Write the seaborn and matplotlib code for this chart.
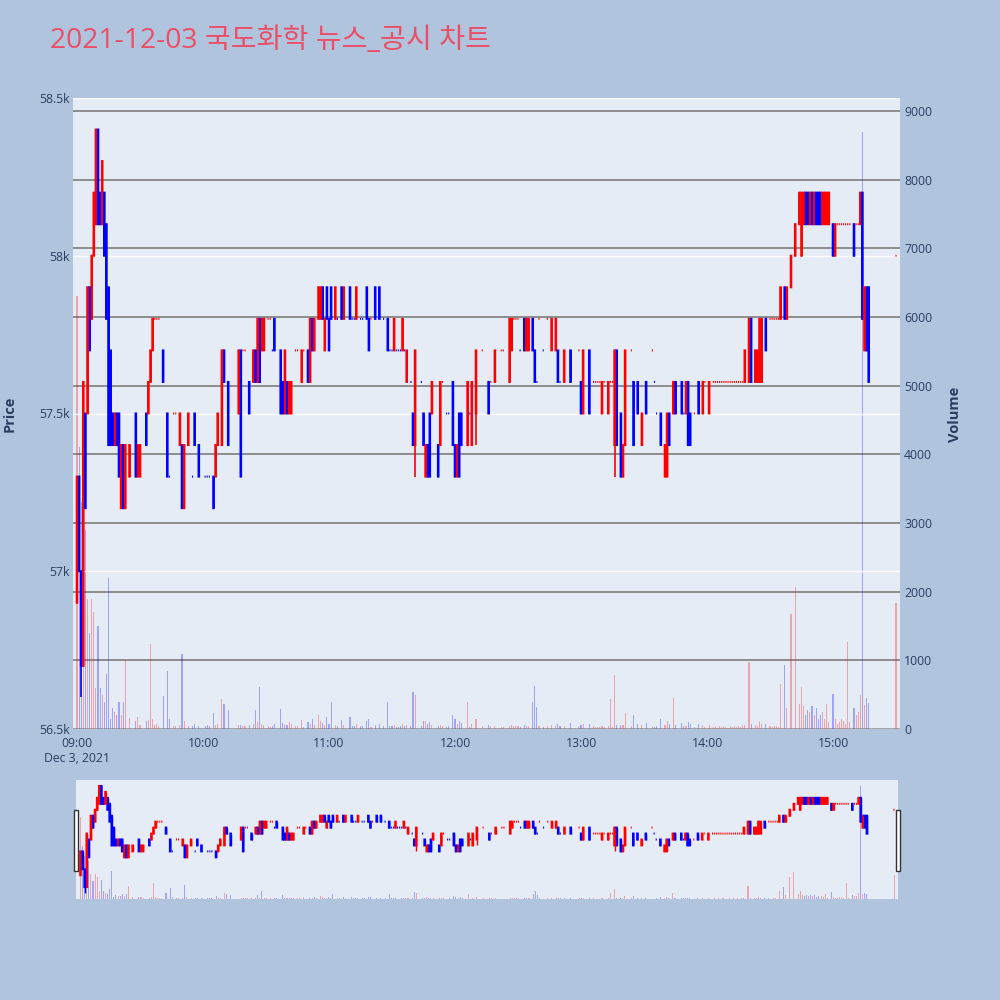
import numpy as np
import pandas as pd
import matplotlib
matplotlib.use("Agg")
import matplotlib.pyplot as plt
from matplotlib.patches import Rectangle
import seaborn as sns

# ---------------- 1-minute candles (minutes after 09:00) ----------------
minute = [
    0, 1, 2, 3, 4, 5, 6, 7, 8, 9, 10, 11,
    12, 13, 14, 15, 16, 17, 18, 19, 20, 21, 22, 23,
    25, 28, 29, 30, 33, 34, 35, 36, 37, 38, 39, 41,
    43, 44, 46, 47, 49, 50, 51, 53, 55, 56, 58, 61,
    62, 63, 65, 66, 67, 69, 70, 72, 77, 78,
    79, 80, 82, 84, 85, 86, 87, 88, 89, 91, 92, 93,
    94, 97, 98, 99, 100, 101, 102, 104, 105, 107, 108, 110,
    111, 112, 113, 115, 116, 117, 118, 119, 120, 121, 123, 124,
    126, 127, 130, 131, 132, 133, 135, 136, 138, 139, 140, 142,
    144, 146, 148, 149, 150, 151, 152, 153, 154, 155,
    156, 157, 159, 160, 161, 164, 165, 166, 167, 168, 169, 172,
    173, 174, 176, 177, 179, 180, 181, 182, 183, 186, 187, 188,
    190, 193, 196, 197, 199, 202, 203, 206, 207, 208, 209, 210,
    211, 213, 214, 215, 217, 218, 219, 220, 222, 224, 226, 228,
    229, 230, 232, 235,
    239, 240, 241, 244, 246, 247, 248, 249, 250, 251, 253, 254,
    255, 256, 257, 259, 260, 261, 264, 265, 267, 269, 271, 274,
    275, 276, 278, 280, 281, 282, 284, 285, 288, 289, 290, 291,
    292, 294, 296, 298, 299, 301, 303, 304, 305, 306, 307, 308,
    309, 310, 311, 312, 313, 314, 315, 316, 317,
    318, 320, 321, 323, 324, 325, 326, 328, 330, 331, 332, 333,
    334, 335, 337, 338, 340, 342, 344, 345, 346, 347, 348, 349,
    350, 351, 352, 353, 354, 355, 356, 357, 358, 360, 361, 362,
    363, 364, 365, 366, 367, 368, 370, 371, 372, 373, 374, 375,
    376, 377, 390,
]

open_price = [
    56900, 57300, 57000, 56700, 57500, 57500, 57900, 57800, 58000, 58100, 58400, 58200,
    58100, 58200, 58100, 57900, 57700, 57500, 57400, 57500, 57500, 57200, 57400, 57200,
    57300, 57500, 57300, 57300, 57500, 57500, 57600, 57700, 57800, 57800, 57800, 57700,
    57500, 57300, 57500, 57500, 57400, 57400, 57200, 57400, 57300, 57500, 57400, 57300,
    57300, 57300, 57300, 57300, 57400, 57400, 57700, 57600, 57500, 57700,
    57700, 57700, 57600, 57600, 57700, 57600, 57800, 57700, 57700, 57800, 57800, 57700,
    57800, 57700, 57600, 57500, 57600, 57500, 57500, 57700, 57700, 57600, 57700, 57700,
    57600, 57800, 57700, 57800, 57800, 57900, 57700, 57900, 57800, 57900, 57800, 57800,
    57900, 57800, 57900, 57800, 57800, 57800, 57800, 57800, 57900, 57800, 57800, 57900,
    57900, 57800, 57800, 57700, 57700, 57700, 57700, 57700, 57700, 57700,
    57700, 57600, 57600, 57500, 57400, 57600, 57500, 57300, 57400, 57500, 57500, 57400,
    57400, 57600, 57500, 57500, 57600, 57400, 57300, 57500, 57500, 57400, 57500, 57400,
    57500, 57700, 57600, 57600, 57600, 57700, 57700, 57600, 57700, 57800, 57800, 57800,
    57700, 57800, 57700, 57700, 57800, 57700, 57600, 57800, 57700, 57800, 57700, 57700,
    57700, 57600, 57600, 57700,
    57700, 57600, 57500, 57700, 57600, 57600, 57600, 57600, 57500, 57600, 57500, 57600,
    57600, 57400, 57700, 57500, 57300, 57400, 57700, 57600, 57600, 57400, 57600, 57700,
    57600, 57500, 57500, 57300, 57300, 57500, 57500, 57600, 57600, 57500, 57500, 57600,
    57500, 57500, 57600, 57500, 57600, 57500, 57600, 57600, 57600, 57600, 57600, 57600,
    57600, 57600, 57600, 57600, 57600, 57600, 57600, 57600, 57600,
    57600, 57600, 57800, 57600, 57600, 57600, 57600, 57800, 57800, 57800, 57800, 57800,
    57800, 57800, 57900, 57800, 57900, 58000, 58100, 58000, 58100, 58200, 58200, 58100,
    58200, 58100, 58200, 58200, 58200, 58100, 58100, 58100, 58100, 58100, 58000, 58100,
    58100, 58100, 58100, 58100, 58100, 58100, 58100, 58100, 58100, 58100, 58200, 57700,
    57900, 57900, 58000,
]

high_price = [
    57300, 57300, 57000, 57600, 57500, 57900, 57900, 58000, 58200, 58400, 58400, 58200,
    58300, 58200, 58100, 57900, 57700, 57500, 57500, 57500, 57500, 57400, 57400, 57400,
    57400, 57500, 57400, 57400, 57500, 57600, 57700, 57800, 57800, 57800, 57800, 57700,
    57500, 57300, 57500, 57500, 57500, 57400, 57400, 57500, 57300, 57500, 57400, 57300,
    57300, 57300, 57300, 57400, 57500, 57700, 57700, 57600, 57700, 57700,
    57700, 57700, 57600, 57700, 57700, 57800, 57800, 57800, 57800, 57800, 57800, 57700,
    57800, 57700, 57600, 57700, 57600, 57600, 57600, 57700, 57700, 57700, 57700, 57700,
    57800, 57800, 57800, 57900, 57900, 57900, 57800, 57900, 57800, 57900, 57900, 57800,
    57900, 57900, 57900, 57800, 57800, 57900, 57800, 57800, 57900, 57800, 57800, 57900,
    57900, 57800, 57800, 57700, 57700, 57800, 57700, 57700, 57700, 57800,
    57700, 57700, 57600, 57500, 57700, 57600, 57500, 57400, 57400, 57500, 57600, 57400,
    57600, 57600, 57500, 57500, 57600, 57400, 57400, 57500, 57500, 57600, 57500, 57600,
    57700, 57700, 57600, 57600, 57700, 57700, 57700, 57800, 57800, 57800, 57800, 57800,
    57700, 57800, 57800, 57800, 57800, 57700, 57600, 57800, 57700, 57800, 57800, 57800,
    57700, 57600, 57700, 57700,
    57700, 57600, 57700, 57700, 57600, 57600, 57600, 57600, 57600, 57600, 57600, 57600,
    57600, 57700, 57700, 57500, 57400, 57700, 57700, 57600, 57600, 57500, 57600, 57700,
    57600, 57500, 57500, 57400, 57500, 57500, 57600, 57600, 57600, 57500, 57600, 57600,
    57500, 57500, 57600, 57600, 57600, 57600, 57600, 57600, 57600, 57600, 57600, 57600,
    57600, 57600, 57600, 57600, 57600, 57600, 57600, 57600, 57600,
    57700, 57800, 57800, 57700, 57700, 57800, 57800, 57800, 57800, 57800, 57800, 57800,
    57800, 57900, 57900, 57900, 58000, 58100, 58200, 58200, 58200, 58200, 58200, 58200,
    58200, 58200, 58200, 58200, 58200, 58200, 58200, 58200, 58200, 58100, 58100, 58100,
    58100, 58100, 58100, 58100, 58100, 58100, 58100, 58100, 58100, 58200, 58200, 57900,
    57900, 57900, 58000,
]

low_price = [
    56900, 57000, 56600, 56700, 57200, 57500, 57700, 57800, 58000, 58100, 58100, 58100,
    58100, 58000, 57800, 57400, 57400, 57400, 57400, 57400, 57300, 57200, 57200, 57200,
    57300, 57300, 57300, 57300, 57400, 57500, 57600, 57700, 57800, 57800, 57800, 57600,
    57300, 57300, 57500, 57500, 57400, 57200, 57200, 57400, 57300, 57400, 57300, 57300,
    57300, 57300, 57200, 57300, 57400, 57400, 57600, 57400, 57500, 57300,
    57700, 57700, 57500, 57600, 57600, 57600, 57600, 57700, 57700, 57800, 57800, 57700,
    57700, 57500, 57500, 57500, 57500, 57500, 57500, 57700, 57700, 57600, 57700, 57600,
    57600, 57700, 57700, 57800, 57800, 57800, 57700, 57800, 57700, 57800, 57800, 57800,
    57800, 57800, 57800, 57800, 57800, 57800, 57800, 57800, 57800, 57700, 57800, 57800,
    57800, 57800, 57700, 57700, 57700, 57700, 57700, 57700, 57700, 57700,
    57700, 57600, 57600, 57400, 57300, 57600, 57400, 57300, 57300, 57300, 57500, 57300,
    57400, 57600, 57500, 57500, 57400, 57300, 57300, 57300, 57400, 57400, 57500, 57400,
    57400, 57700, 57500, 57600, 57600, 57700, 57700, 57600, 57700, 57800, 57800, 57800,
    57700, 57700, 57700, 57700, 57700, 57600, 57600, 57800, 57700, 57800, 57700, 57700,
    57600, 57600, 57600, 57600,
    57700, 57500, 57500, 57500, 57600, 57600, 57600, 57600, 57500, 57600, 57500, 57600,
    57600, 57300, 57400, 57300, 57300, 57400, 57700, 57400, 57500, 57400, 57500, 57700,
    57600, 57500, 57400, 57300, 57300, 57400, 57500, 57500, 57500, 57500, 57500, 57400,
    57400, 57500, 57500, 57500, 57600, 57500, 57600, 57600, 57600, 57600, 57600, 57600,
    57600, 57600, 57600, 57600, 57600, 57600, 57600, 57600, 57600,
    57600, 57600, 57600, 57600, 57600, 57600, 57600, 57700, 57800, 57800, 57800, 57800,
    57800, 57800, 57800, 57800, 57900, 58000, 58100, 58000, 58100, 58100, 58100, 58100,
    58100, 58100, 58100, 58100, 58100, 58100, 58100, 58100, 58100, 58000, 58000, 58100,
    58100, 58100, 58100, 58100, 58100, 58100, 58000, 58100, 58100, 58100, 57800, 57700,
    57700, 57600, 58000,
]

close_price = [
    57300, 57000, 56700, 57600, 57200, 57900, 57700, 58000, 58200, 58400, 58100, 58100,
    58300, 58000, 57800, 57400, 57400, 57400, 57500, 57400, 57300, 57400, 57200, 57400,
    57400, 57300, 57400, 57400, 57400, 57600, 57700, 57800, 57800, 57800, 57800, 57600,
    57300, 57300, 57500, 57500, 57500, 57200, 57400, 57500, 57300, 57400, 57300, 57300,
    57300, 57300, 57200, 57400, 57500, 57700, 57600, 57400, 57700, 57300,
    57700, 57700, 57500, 57700, 57600, 57800, 57600, 57800, 57800, 57800, 57800, 57700,
    57700, 57500, 57500, 57700, 57500, 57600, 57600, 57700, 57700, 57700, 57700, 57600,
    57800, 57700, 57800, 57900, 57900, 57800, 57800, 57800, 57700, 57800, 57900, 57800,
    57800, 57900, 57800, 57800, 57800, 57900, 57800, 57800, 57800, 57700, 57800, 57800,
    57800, 57800, 57700, 57700, 57700, 57800, 57700, 57700, 57700, 57800,
    57700, 57700, 57600, 57400, 57700, 57600, 57400, 57400, 57300, 57300, 57600, 57300,
    57600, 57600, 57500, 57500, 57400, 57300, 57400, 57300, 57400, 57600, 57500, 57600,
    57700, 57700, 57500, 57600, 57700, 57700, 57700, 57800, 57800, 57800, 57800, 57800,
    57700, 57700, 57800, 57800, 57700, 57600, 57600, 57800, 57700, 57800, 57800, 57800,
    57600, 57600, 57700, 57600,
    57700, 57500, 57700, 57500, 57600, 57600, 57600, 57600, 57600, 57600, 57600, 57600,
    57600, 57700, 57400, 57300, 57400, 57700, 57700, 57400, 57500, 57500, 57500, 57700,
    57600, 57500, 57400, 57400, 57500, 57400, 57600, 57500, 57500, 57500, 57600, 57400,
    57400, 57500, 57500, 57600, 57600, 57600, 57600, 57600, 57600, 57600, 57600, 57600,
    57600, 57600, 57600, 57600, 57600, 57600, 57600, 57600, 57600,
    57700, 57800, 57600, 57700, 57700, 57800, 57800, 57700, 57800, 57800, 57800, 57800,
    57800, 57900, 57800, 57900, 58000, 58100, 58200, 58200, 58200, 58100, 58100, 58200,
    58100, 58200, 58100, 58100, 58100, 58200, 58200, 58200, 58200, 58000, 58100, 58100,
    58100, 58100, 58100, 58100, 58100, 58100, 58000, 58100, 58100, 58200, 57800, 57900,
    57700, 57600, 58000,
]

volume = [
    6300, 4100, 3300, 1600, 2900, 1900, 1400, 1900, 1700, 600, 1500, 600,
    500, 400, 800, 2200, 150, 300, 250, 200, 400, 200, 400, 1000,
    160, 120, 180, 60, 110, 130, 1240, 150, 60, 80, 40, 480,
    840, 140, 40, 50, 60, 1090, 120, 50, 40, 70, 50, 40,
    60, 50, 240, 60, 80, 430, 370, 280, 60, 60,
    40, 50, 60, 70, 280, 100, 610, 80, 60, 40, 30, 40,
    80, 290, 90, 70, 60, 100, 70, 40, 40, 130, 30, 100,
    80, 150, 60, 210, 120, 90, 60, 180, 70, 400, 60, 40,
    130, 60, 180, 40, 40, 80, 50, 40, 120, 150, 30, 60,
    80, 40, 390, 40, 40, 60, 30, 30, 40, 70,
    50, 60, 40, 535, 490, 40, 110, 120, 80, 100, 60, 50,
    60, 40, 30, 40, 200, 140, 80, 120, 90, 390, 30, 80,
    150, 40, 60, 40, 50, 30, 30, 40, 60, 40, 50, 40,
    30, 60, 50, 40, 400, 630, 315, 40, 30, 40, 60, 50,
    80, 40, 50, 90,
    40, 60, 70, 80, 40, 30, 30, 30, 40, 30, 50, 430,
    30, 780, 60, 60, 60, 230, 40, 200, 80, 60, 90, 30,
    30, 40, 150, 60, 120, 80, 450, 60, 90, 40, 50, 100,
    70, 30, 80, 60, 30, 60, 30, 40, 20, 50, 30, 40,
    30, 20, 40, 30, 50, 30, 40, 30, 60,
    60, 970, 80, 60, 50, 120, 80, 70, 40, 30, 50, 40,
    30, 655, 930, 300, 1680, 2065, 370, 610, 330, 200, 280, 250,
    330, 200, 300, 150, 200, 250, 150, 365, 100, 510, 150, 80,
    100, 150, 120, 80, 1260, 100, 300, 200, 250, 500, 8700, 350,
    450, 380, 1830,
]

time_ticks = [0, 60, 120, 180, 240, 300, 360]
time_labels = ["09:00", "10:00", "11:00", "12:00", "13:00", "14:00", "15:00"]
price_ticks = [56500, 57000, 57500, 58000, 58500]
price_labels = ["56.5k", "57k", "57.5k", "58k", "58.5k"]
volume_ticks = [0, 1000, 2000, 3000, 4000, 5000, 6000, 7000, 8000, 9000]

n = len(minute)
assert all(len(a) == n for a in [open_price, high_price, low_price, close_price, volume])

UP = "#ff0000"
DOWN = "#0000ff"
FIG_BG = "#b0c4de"
PLOT_BG = "#e5ecf6"
TEXT = "#2a3f5f"


def candle_colours(opens, closes):
    # plotly rule: doji keeps previous direction unless it moved vs previous close
    colours, inc, prev = [], True, None
    for o, c in zip(opens, closes):
        if c > o:
            inc = True
        elif c < o:
            inc = False
        elif prev is not None and c != prev:
            inc = c > prev
        colours.append(UP if inc else DOWN)
        prev = c
    return colours


df = pd.DataFrame({"minute": minute, "open": open_price, "high": high_price,
                   "low": low_price, "close": close_price, "volume": volume})
df["colour"] = candle_colours(df["open"], df["close"])
df["dir"] = np.where(df["colour"] == UP, "up", "down")

sns.set_style("white")
plt.rcParams["font.family"] = ["Open Sans", "Noto Sans CJK KR", "DejaVu Sans"]

XLIM = (-2.15, 391.9)
PLIM = (56500, 58500)
VLIM = (0, 9190)
PX_PER_MIN = 827.5 / (XLIM[1] - XLIM[0])


def draw_panel(ax_v, ax_p, height_px, wick_lw):
    # volume bars
    sns.histplot(data=df, x="minute", weights="volume", hue="dir",
                 palette={"up": UP, "down": DOWN}, discrete=True, shrink=0.5,
                 alpha=0.3, linewidth=0, legend=False, ax=ax_v)
    # candles: body box plus 1px outline all round, as plotly draws them;
    # open == close leaves only a short 1px dash
    won_per_px = (PLIM[1] - PLIM[0]) / height_px
    pad = 1.0 * won_per_px
    doji = df["open"] == df["close"]
    lo = np.minimum(df["open"], df["close"]) - pad
    h = np.abs(df["close"] - df["open"]) + 2 * pad
    w = np.where(doji, 1.1, 2.6) / PX_PER_MIN
    ax_p.vlines(df["minute"], df["low"], df["high"], colors=df["colour"], linewidth=wick_lw)
    ax_p.bar(df["minute"], h, bottom=lo, width=w, color=df["colour"],
             linewidth=0, snap=False)
    ax_v.set_xlim(*XLIM)
    ax_v.set_ylim(*VLIM)
    ax_p.set_ylim(*PLIM)
    ax_v.set_xlabel("")
    ax_v.set_ylabel("")
    for a in (ax_v, ax_p):
        for s in a.spines.values():
            s.set_visible(False)


fig = plt.figure(figsize=(10, 10), dpi=100, facecolor=FIG_BG)

# ---------------- main chart ----------------
ax_v = fig.add_axes([0.0725, 0.271, 0.8275, 0.631])
ax_v.set_facecolor(PLOT_BG)
ax_p = ax_v.twinx()
draw_panel(ax_v, ax_p, 631, 1.2)

ax_v.yaxis.set_ticks_position("right")
ax_p.yaxis.set_ticks_position("left")
ax_v.set_yticks(volume_ticks)
ax_v.set_yticklabels([str(v) for v in volume_ticks])
ax_p.set_yticks(price_ticks)
ax_p.set_yticklabels(price_labels)
ax_v.set_xticks(time_ticks)
ax_v.set_xticklabels(time_labels)
ax_v.tick_params(axis="y", length=0, pad=3, labelsize=8.8, labelcolor=TEXT)
ax_p.tick_params(axis="y", length=0, pad=2, labelsize=8.8, labelcolor=TEXT)
ax_v.tick_params(axis="x", length=0, pad=6, labelsize=8.8, labelcolor=TEXT)

ax_v.set_axisbelow(True)
ax_p.set_axisbelow(True)
ax_v.grid(axis="y", color="#858585", linewidth=1.3)
ax_v.grid(axis="x", visible=False)
ax_p.grid(axis="y", color="white", linewidth=1.0)
ax_v.axhline(0, color="white", linewidth=2, zorder=0.5)

ax_v.annotate("Dec 3, 2021", xy=(0, 0), xycoords=("data", "axes fraction"),
              xytext=(0, -21), textcoords="offset points", ha="center", va="center",
              fontsize=8.8, color=TEXT)

fig.text(0.05, 0.959, "2021-12-03 국도화학 뉴스_공시 차트", ha="left", va="center",
         fontsize=20.3, color="#eb4f67")
fig.text(0.010, 0.586, "Price", rotation=90, ha="center", va="center",
         fontsize=10.5, fontweight="bold", color=TEXT)
fig.text(0.955, 0.586, "Volume", rotation=90, ha="center", va="center",
         fontsize=10.5, fontweight="bold", color=TEXT)

# ---------------- range slider ----------------
ax_sv = fig.add_axes([0.076, 0.101, 0.822, 0.119])
ax_sv.set_facecolor(PLOT_BG)
ax_sp = ax_sv.twinx()
draw_panel(ax_sv, ax_sp, 119, 1.0)
for a in (ax_sv, ax_sp):
    a.set_xticks([])
    a.set_yticks([])
    a.grid(False)

for x0 in (0.0735, 0.8955):
    fig.patches.append(Rectangle((x0, 0.129), 0.0045, 0.061, transform=fig.transFigure,
                                 facecolor="white", edgecolor="#333333", linewidth=1.0,
                                 zorder=5))

fig.savefig("out.png", dpi=100, facecolor=FIG_BG)
